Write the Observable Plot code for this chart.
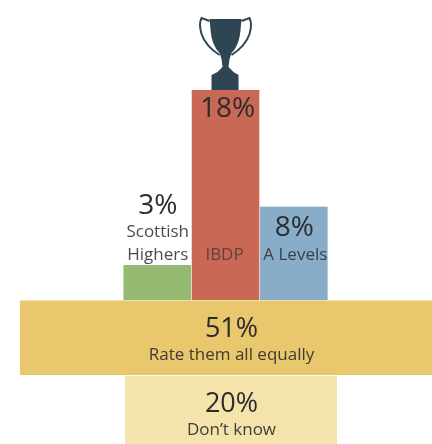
<!DOCTYPE html>
<html>
<head>
<meta charset="utf-8">
<script src="https://cdn.jsdelivr.net/npm/d3@7"></script>
<script src="https://cdn.jsdelivr.net/npm/@observablehq/plot@0.6"></script>
<style>
html,body{margin:0;padding:0;background:#fff;}
#chart svg{display:block;filter:blur(0.35px);}
</style>
</head>
<body>
<div id="chart"></div>
<script>
const categories = ["Scottish Highers", "IBDP", "A Levels"];
const categoryLines = [["Scottish", "Highers"], ["IBDP"], ["A Levels"]];
const values = [3, 18, 8];
const barColors = ["#95bb72", "#c96855", "#88adc8"];
const bandLabels = ["Rate them all equally", "Don\u2019t know"];
const bandValues = [51, 20];
const bandColors = ["#e9c76c", "#f4e3aa"];

// layout (scale units)
const bandCentre = 1.08;
const bandHalfWidths = [3.09, 1.552];
const bandTops = [-0.04, -6.5];
const bandBottoms = [-6.43, -12.4];

const bars = categories.map((c, i) => ({c, i, v: values[i], color: barColors[i]}));
const bands = bandLabels.map((l, i) => ({l, v: bandValues[i], color: bandColors[i],
  x1: bandCentre - bandHalfWidths[i], x2: bandCentre + bandHalfWidths[i],
  y1: bandBottoms[i], y2: bandTops[i]}));

const font = "Open Sans";
const ink = "#2b2b30";
const valueDy = [-60, 18, 20];
const valueDx = [0, 1.5, 0];
const lineDx = [0, -1.5, 1];
const lineOpacity = [0.85, 0.65, 0.85];

const trophyCup = "M-16,-71 L16,-71 L15,-60 Q14,-45 6,-37 L4,-31 L3,-23 L8,-18 L13,-15 L13,0 L-14,0 L-14,-15 L-8,-18 L-3,-23 L-4,-31 L-6,-37 Q-14,-45 -15,-60 Z";
const trophyHandles = "M-16,-69 L-24,-72 Q-27,-66 -24,-56 Q-20,-44 -6,-35 M16,-69 L24,-72 Q27,-66 24,-56 Q20,-44 6,-35";

const trophy = (index, {x, y}) => {
  const g = d3.create("svg:g").attr("transform", `translate(${x(1)},${y(values[1])})`);
  g.append("path").attr("d", trophyHandles).attr("fill", "none").attr("stroke", "#2e4654").attr("stroke-width", 2);
  g.append("path").attr("d", trophyCup).attr("fill", "#2e4654");
  return g.node();
};

const lineLabels = bars.flatMap(b => categoryLines[b.i].map((t, j, a) => ({
  t, i: b.i, dy: -46 - 23 * (a.length - 1 - j), dx: lineDx[b.i], o: lineOpacity[b.i]
})));

const plot = Plot.plot({
  width: 432, height: 444,
  margin: 0,
  style: {background: "#fff", fontFamily: font},
  x: {domain: [-2.302, 4.023], range: [0, 432], axis: null},
  y: {domain: [-12.34, 25.71], range: [444, 0], axis: null},
  marks: [
    Plot.rect(bars, {x1: d => d.i - 0.495, x2: d => d.i + 0.495, y1: 0, y2: "v", fill: "color"}),
    Plot.rect(bands, {x1: "x1", x2: "x2", y1: "y1", y2: "y2", fill: "color"}),
    trophy,
    ...bars.map(b => Plot.text([b], {x: "i", y: "v", text: d => d.v + "%", fill: ink, fontSize: 28,
      dx: valueDx[b.i], dy: valueDy[b.i]})),
    ...lineLabels.map(l => Plot.text([l], {x: "i", y: 0, text: "t", fill: ink, fillOpacity: l.o,
      fontSize: 17, dx: l.dx, dy: l.dy})),
    ...bands.map((b, i) => Plot.text([b], {x: bandCentre, y: "y2", text: d => d.v + "%", fill: ink, fontSize: 27,
      dy: 27.5})),
    ...bands.map((b, i) => Plot.text([b], {x: bandCentre, y: "y2", text: "l", fill: ink, fillOpacity: 0.9,
      fontSize: 17, dy: 53.5})),
  ]
});
document.getElementById("chart").append(plot);
</script>
</body>
</html>
